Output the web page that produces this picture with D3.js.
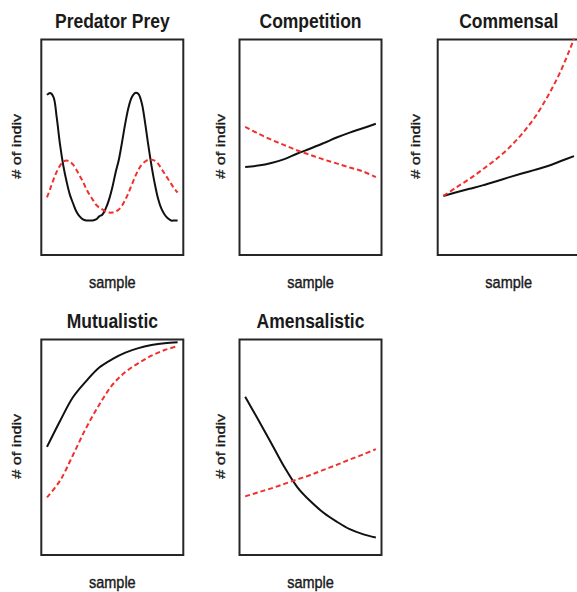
<!DOCTYPE html>
<html>
<head>
<meta charset="utf-8">
<script src="https://cdn.jsdelivr.net/npm/d3@7"></script>
<style>
  body { margin: 0; background: #fff; }
  text { font-family: 'Liberation Sans', Arial, sans-serif; fill: #1a1a1a; }
</style>
</head>
<body>
<div id="chart"></div>
<script>
const width = 577
const height = 592

const titles = ['Predator Prey', 'Competition', 'Commensal', 'Mutualistic', 'Amensalistic']
const xLabel = 'sample'
const yLabel = '# of indiv'

// sample index along x
const samplesLong = [0, 1, 2, 3, 4, 5, 6, 7, 8, 9, 10, 11, 12, 13, 14, 15, 16, 17, 18, 19, 20,
  21, 22, 23, 24, 25, 26, 27, 28, 29, 30, 31, 32, 33, 34, 35, 36, 37, 38, 39, 40]
const samplesShort = [0, 1, 2, 3, 4, 5, 6, 7, 8, 9, 10]

// # of indiv (0-100 of the plot box height)
const preyCounts = [74.3, 75.2, 73.3, 63.6, 51.2, 41.5, 34.1, 28.0, 23.9, 20.2, 17.9, 16.5, 16.0, 16.0,
  16.0, 16.5, 17.9, 18.8, 21.6, 25.7, 31.3, 38.2, 44.2, 52.5, 61.3, 68.7, 73.3, 75.2, 74.7, 70.6,
  61.8, 51.2, 41.5, 33.1, 26.2, 21.6, 18.8, 17.0, 16.0, 16.0, 16.0]
const predatorCounts = [26.7, 30.8, 35.0, 38.7, 41.5, 43.3, 43.8, 43.3, 41.9, 39.6, 36.8, 34.1, 30.8,
  28.0, 25.7, 23.4, 22.0, 21.1, 20.2, 19.7, 19.7, 20.2, 21.1, 23.0, 25.7, 29.0, 32.7, 36.4, 39.6,
  41.9, 43.3, 44.2, 44.2, 43.8, 42.4, 40.1, 37.8, 35.4, 33.1, 30.8, 29.0]

const competitionA = [40.8, 41.5, 42.7, 44.5, 47.1, 49.4, 51.9, 54.5, 56.8, 58.8, 60.9]
const competitionB = [59.5, 56.3, 53.5, 51.0, 48.5, 46.4, 44.3, 42.5, 40.6, 38.8, 36.2]

const commensalHost = [27.4, 29.1, 30.7, 32.3, 34.1, 36.0, 37.8, 39.5, 41.3, 43.6, 45.9]
const commensalGuest = [27.4, 31.4, 35.3, 39.7, 44.3, 49.6, 56.1, 63.9, 73.8, 85.6, 100.4]

const mutualA = [50.2, 62.2, 73.3, 80.7, 87.0, 90.9, 93.9, 96.0, 97.4, 98.3, 98.7]
const mutualB = [26.7, 34.5, 46.5, 59.0, 69.7, 78.9, 84.9, 89.0, 92.5, 95.1, 96.9]

const amensalA = [73.4, 62.8, 51.9, 40.8, 31.4, 24.9, 19.6, 15.5, 12.0, 9.7, 8.1]
const amensalB = [27.2, 29.1, 30.9, 33.0, 35.1, 37.1, 39.5, 41.8, 44.3, 46.6, 49.1]

const panels = [
  { title: titles[0], col: 0, row: 0, x: samplesLong, solid: preyCounts, dashed: predatorCounts },
  { title: titles[1], col: 1, row: 0, x: samplesShort, solid: competitionA, dashed: competitionB },
  { title: titles[2], col: 2, row: 0, x: samplesShort, solid: commensalHost, dashed: commensalGuest },
  { title: titles[3], col: 0, row: 1, x: samplesShort, solid: mutualA, dashed: mutualB },
  { title: titles[4], col: 1, row: 1, x: samplesShort, solid: amensalA, dashed: amensalB }
]

const boxLeft = [41.3, 239.5, 437.7]
const boxTop = [39.5, 339.5]
const boxW = 142
const boxH = 215.5
const yLabelX = [20.5, 224.5, 419.5]

const svg = d3.select('#chart')
  .append('svg')
    .attr('width', width)
    .attr('height', height)

const drawPanel = (p) => {
  const left = boxLeft[p.col]
  const top = boxTop[p.row]
  const pad = boxW * 0.04

  const x = d3.scaleLinear()
    .domain(d3.extent(p.x))
    .range([left + pad, left + boxW - pad])
  const y = d3.scaleLinear()
    .domain([0, 100])
    .range([top + boxH, top])

  const g = svg.append('g')

  g.append('rect')
    .attr('x', left)
    .attr('y', top)
    .attr('width', boxW)
    .attr('height', boxH)
    .attr('fill', 'none')
    .attr('stroke', '#262626')
    .attr('stroke-width', 2)

  const line = d3.line()
    .x((d, i) => x(p.x[i]))
    .y(d => y(d))
    .curve(d3.curveCatmullRom.alpha(0.5))

  g.append('path')
    .attr('d', line(p.solid))
    .attr('fill', 'none')
    .attr('stroke', '#111')
    .attr('stroke-width', 2)

  g.append('path')
    .attr('d', line(p.dashed))
    .attr('fill', 'none')
    .attr('stroke', '#f0302c')
    .attr('stroke-width', 2)
    .attr('stroke-dasharray', '5,3')

  const cx = left + boxW / 2

  g.append('text')
    .attr('transform', `translate(${cx},${top - 12}) scale(1,1.13)`)
    .attr('text-anchor', 'middle')
    .style('font-size', '17.5px')
    .style('font-weight', 'bold')
    .text(p.title)

  g.append('text')
    .attr('transform', `translate(${cx},${top + 248}) scale(1,1.2)`)
    .attr('text-anchor', 'middle')
    .style('font-size', '14.5px')
    .attr('stroke', '#1a1a1a')
    .attr('stroke-width', 0.35)
    .text(xLabel)

  // y label sits a little above the box middle
  g.append('text')
    .attr('transform', `translate(${yLabelX[p.col]},${top + boxH / 2 - 1}) scale(1,1.2) rotate(-90)`)
    .attr('text-anchor', 'middle')
    .style('font-size', '13.5px')
    .attr('stroke', '#1a1a1a')
    .attr('stroke-width', 0.35)
    .text(yLabel)
}

panels.forEach(drawPanel)
</script>
</body>
</html>
